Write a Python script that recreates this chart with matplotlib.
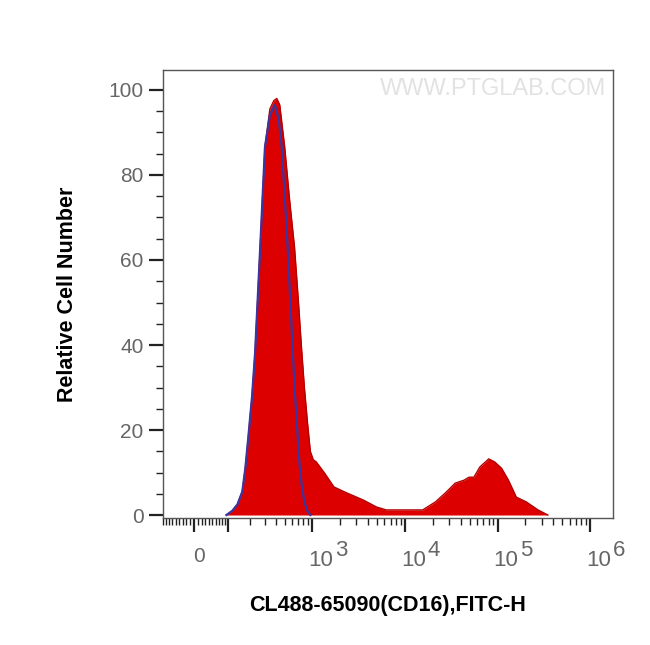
import numpy as np
import matplotlib
matplotlib.use("Agg")
import matplotlib.pyplot as plt
from matplotlib.transforms import ScaledTranslation, blended_transform_factory

# FITC-H intensity (biexponential display) and relative cell number
sample_x = [95, 117, 138, 160, 175, 190, 212, 230, 263, 300, 341, 378, 408,
            440, 499, 566, 640, 707, 762, 820, 884, 951, 1024, 1103, 1343, 1716,
            2361, 3581, 4925, 6291, 12190, 15570, 21420, 27350, 34940, 43570,
            49240, 55650, 64450, 80350, 93070, 110500, 131200, 159600, 203900,
            273600, 349500]
sample_y = [0, 1.0, 2.5, 5.5, 11, 18, 28, 38, 62, 86.6, 95.5, 97.5, 98,
            96.5, 86.6, 74, 63, 50, 39.5, 30, 22, 15, 13, 12.5, 10, 6.6,
            5.2, 3.5, 1.9, 1.2, 1.2, 1.2, 3.1, 5.2, 7.5, 8.2,
            8.9, 8.9, 11.3, 13.2, 12.5, 11, 8.2, 4.2, 3.1,
            1.2, 0]

control_x = [95, 117, 138, 160, 175, 190, 212, 230, 263, 300, 341, 388, 429,
             463, 499, 538, 609, 640, 690, 725, 762, 820, 884, 951]
control_y = [0, 1.0, 2.5, 5.5, 11, 18, 28, 38, 62, 86.6, 94, 96.5, 93,
             86.6, 75, 63, 39.5, 30, 19, 12, 7.5, 3, 1, 0]

major_ticks = [0, 100, 1e3, 1e4, 1e5, 1e6]
decade_ticks = [1e3, 1e4, 1e5, 1e6]
decade_exps = ["3", "4", "5", "6"]

C = 53.0


def fwd(x):
    return np.arcsinh(np.asarray(x, dtype=float) / (2 * C)) / np.log(10)


def inv(u):
    return 2 * C * np.sinh(np.asarray(u, dtype=float) * np.log(10))


plt.rcParams["font.family"] = ["Liberation Sans", "DejaVu Sans"]

fig = plt.figure(figsize=(6.5, 6.45), dpi=100)
ax = fig.add_axes([163 / 650, 1 - 518 / 645, 450 / 650, 448 / 645])
ax.set_xscale("function", functions=(fwd, inv))

ax.fill_between(sample_x, sample_y, 0, color="#dd0000", linewidth=0, zorder=2)
ax.plot(sample_x, sample_y, color="#b00000", linewidth=1.0, zorder=3)
ax.plot(control_x, control_y, color="#3a35a0", linewidth=1.6, zorder=4)

ax.set_xlim(-69, 1.763e6)
ax.set_ylim(-0.7, 104.7)

minor = [s * v for v in range(10, 100, 10) for s in (-1, 1)]
minor += [m * 10 ** k for k in range(2, 6) for m in range(2, 10)]
ax.set_xticks(major_ticks)
ax.set_xticks(minor, minor=True)
ax.set_xticklabels([])
ax.set_yticks(range(0, 101, 20))
ax.set_yticks(range(0, 101, 5), minor=True)

gray = "#666666"
ax.tick_params(axis="both", which="major", direction="out", length=10,
               width=1.6, color="#222222", labelsize=15, labelcolor=gray)
ax.tick_params(axis="both", which="minor", direction="out", length=5,
               width=1.0, color="#222222")
ax.tick_params(axis="y", which="major", pad=4)

# x tick labels: "0" and 10^k with large superscripts
trans = blended_transform_factory(ax.transData, ax.transAxes)
px = fig.dpi_scale_trans
ax.text(0, -0.085, "0", transform=trans + ScaledTranslation(5 / 100, 0, px),
        ha="center", va="center", fontsize=15, color=gray)
for xv, ex in zip(decade_ticks, decade_exps):
    ax.text(xv, -0.095, "10", transform=trans + ScaledTranslation(-4 / 100, 0, px),
            ha="left", va="center", fontsize=16, color=gray)
    ax.text(xv, -0.073, ex, transform=trans + ScaledTranslation(23 / 100, 0, px),
            ha="left", va="center", fontsize=16, color=gray)

for side in ("left", "right", "top", "bottom"):
    ax.spines[side].set_color("#555555")
    ax.spines[side].set_linewidth(1.0)

ax.set_xlabel("CL488-65090(CD16),FITC-H", fontsize=15.5, fontweight="bold", labelpad=42)
ax.set_ylabel("Relative Cell Number", fontsize=15.5, fontweight="bold", labelpad=22)

ax.text(0.985, 0.958, "WWW.PTGLAB.COM", transform=ax.transAxes, ha="right",
        va="center", fontsize=17, color="#e2e2e2")

fig.savefig("out.png", dpi=100)
